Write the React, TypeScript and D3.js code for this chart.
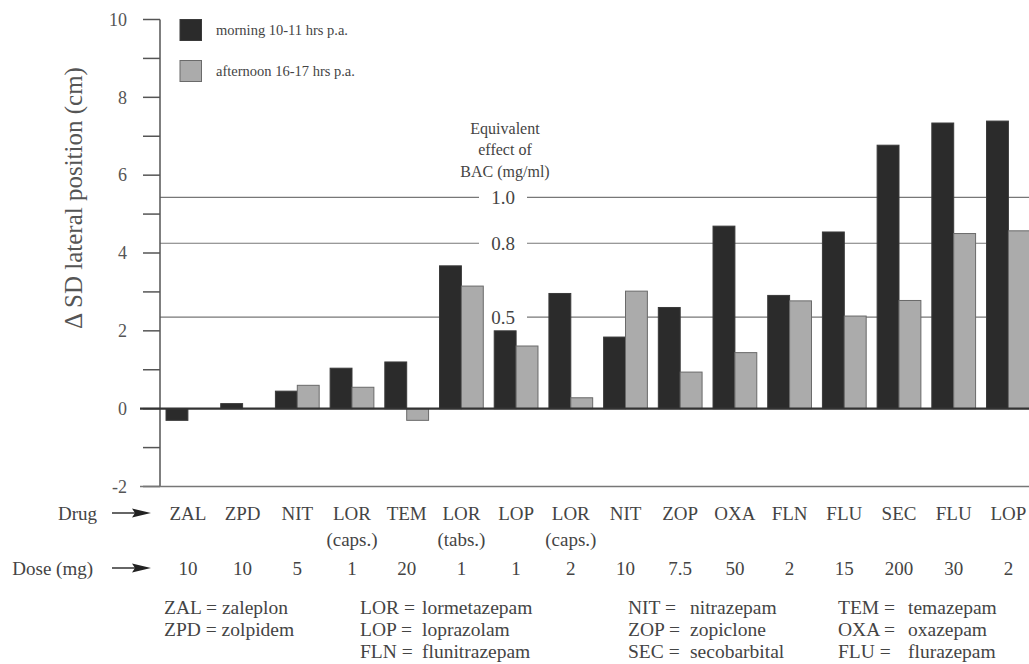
import React from "react";
import * as d3 from "d3";

const drugs = ["ZAL", "ZPD", "NIT", "LOR", "TEM", "LOR", "LOP", "LOR", "NIT", "ZOP", "OXA", "FLN", "FLU", "SEC", "FLU", "LOP"];
const forms = ["", "", "", "(caps.)", "", "(tabs.)", "", "(caps.)", "", "", "", "", "", "", "", ""];
const doses = ["10", "10", "5", "1", "20", "1", "1", "2", "10", "7.5", "50", "2", "15", "200", "30", "2"];
const morning = [-0.3, 0.13, 0.45, 1.04, 1.2, 3.67, 2.0, 2.96, 1.84, 2.6, 4.69, 2.91, 4.54, 6.77, 7.34, 7.39];
const afternoon = [0, 0, 0.6, 0.55, -0.3, 3.15, 1.61, 0.28, 3.02, 0.94, 1.44, 2.77, 2.38, 2.78, 4.5, 4.57];
const seriesNames = ["morning 10-11 hrs p.a.", "afternoon 16-17 hrs p.a."];
const bacLabels = ["1.0", "0.8", "0.5"];
const bacEquivalentCm = [5.43, 4.25, 2.35];
const yTicks = d3.range(-2, 11, 1);
const abbrevColumns = [
  [["ZAL", "zaleplon"], ["ZPD", "zolpidem"]],
  [["LOR", "lormetazepam"], ["LOP", "loprazolam"], ["FLN", "flunitrazepam"]],
  [["NIT", "nitrazepam"], ["ZOP", "zopiclone"], ["SEC", "secobarbital"]],
  [["TEM", "temazepam"], ["OXA", "oxazepam"], ["FLU", "flurazepam"]],
];

const W = 1029;
const H = 664;
const FONT = "Liberation Serif";
const TEXT = "#444";
const DARK = "#2b2b2b";
const GREY = "#ababab";

export default function App() {
  const ids = drugs.map((_, i) => String(i));
  const x = d3.scaleBand<string>().domain(ids).range([160, 1036.3]).paddingInner(0.2).paddingOuter(0.11);
  const inner = d3.scaleBand<string>().domain(["m", "a"]).range([0, x.bandwidth()]);
  const y = d3.scaleLinear().domain([-2, 10]).range([486.5, 19.5]);
  const axisX = 160;
  const bacX = 503;
  const gapHalf = 24;
  const ts = { fontFamily: FONT };

  const bar = (i: number, v: number, key: string) => {
    if (v === 0) return null;
    const x0 = (x(String(i)) as number) + (inner(key) as number);
    const y0 = y(Math.max(0, v));
    const h = Math.abs(y(v) - y(0));
    return (
      <rect
        key={key + i}
        x={x0}
        y={y0}
        width={inner.bandwidth()}
        height={h}
        fill={key === "m" ? DARK : GREY}
        stroke={key === "m" ? "#3a3a3a" : "#6a6a6a"}
        strokeWidth={1}
      />
    );
  };

  const arrow = (yy: number) => (
    <g>
      <line x1={112} x2={140} y1={yy} y2={yy} stroke="#333" strokeWidth={1.5} />
      <polygon points={`${132},${yy - 4.5} ${151},${yy} ${132},${yy + 4.5} ${135},${yy}`} fill="#222" />
    </g>
  );

  const colX = [[164, 0], [360, 422], [628, 690], [838, 908]];
  const rowY = [607, 629, 651];
  const legendSize = 19.5;

  return (
    <svg width={W} height={H} style={{ position: "absolute", left: 0, top: 0, background: "#fff", fontFamily: FONT }}>
      {/* BAC reference lines */}
      {bacEquivalentCm.map((v, i) => (
        <g key={"bac" + i}>
          <line x1={axisX} x2={bacX - gapHalf} y1={y(v)} y2={y(v)} stroke="#777" strokeWidth={1.2} />
          <line x1={bacX + gapHalf} x2={W} y1={y(v)} y2={y(v)} stroke="#777" strokeWidth={1.2} />
          <text style={ts} x={bacX} y={y(v)} dy="0.35em" textAnchor="middle" fontSize={19} fill={TEXT}>
            {bacLabels[i]}
          </text>
        </g>
      ))}
      <text style={ts} x={505} textAnchor="middle" fontSize={16} fill={TEXT}>
        <tspan x={505} y={134}>Equivalent</tspan>
        <tspan x={505} y={155}>effect of</tspan>
        <tspan x={505} y={177}>BAC (mg/ml)</tspan>
      </text>

      {/* bars */}
      {morning.map((v, i) => bar(i, v, "m"))}
      {afternoon.map((v, i) => bar(i, v, "a"))}

      {/* axes */}
      <line x1={axisX} x2={axisX} y1={y(10)} y2={y(-2)} stroke="#555" strokeWidth={1.5} />
      {yTicks.map((t) => (
        <g key={"t" + t}>
          <line x1={143} x2={axisX} y1={y(t)} y2={y(t)} stroke="#555" strokeWidth={1.5} />
          {t % 2 === 0 && (
            <text style={ts} x={127} y={y(t)} dy="0.35em" textAnchor="end" fontSize={18} fill="#555">
              {t}
            </text>
          )}
        </g>
      ))}
      <line x1={140} x2={W} y1={y(0)} y2={y(0)} stroke="#333" strokeWidth={2.2} />
      <line x1={140} x2={W} y1={y(-2)} y2={y(-2)} stroke="#777" strokeWidth={1.5} />

      <text
        style={ts}
        transform={`translate(73,${198}) rotate(-90)`}
        textAnchor="middle"
        dy="0.35em"
        fontSize={25}
        fill="#555"
      >
        Δ SD lateral position (cm)
      </text>

      {/* legend */}
      {seriesNames.map((s, i) => (
        <g key={"lg" + i}>
          <rect x={180} y={19.5 + i * 41} width={21.5} height={21} fill={i === 0 ? DARK : GREY} stroke={i === 0 ? "#3a3a3a" : "#6a6a6a"} />
          <text style={ts} x={216} y={30 + i * 41} dy="0.35em" fontSize={14.5} fill={TEXT}>
            {s}
          </text>
        </g>
      ))}

      {/* drug and dose rows */}
      <text style={ts} x={97} y={513} dy="0.35em" textAnchor="end" fontSize={19} fill={TEXT}>Drug</text>
      {arrow(513)}
      <text style={ts} x={93} y={568} dy="0.35em" textAnchor="end" fontSize={19} fill={TEXT}>Dose (mg)</text>
      {arrow(568)}
      {drugs.map((d, i) => {
        const cx = (x(String(i)) as number) + x.bandwidth() / 2;
        return (
          <g key={"d" + i}>
            <text style={ts} x={cx} y={513} dy="0.35em" textAnchor="middle" fontSize={19} fill={TEXT}>{d}</text>
            {forms[i] && (
              <text style={ts} x={cx} y={539} dy="0.35em" textAnchor="middle" fontSize={19} fill={TEXT}>{forms[i]}</text>
            )}
            <text style={ts} x={cx} y={568} dy="0.35em" textAnchor="middle" fontSize={19} fill={TEXT}>{doses[i]}</text>
          </g>
        );
      })}

      {/* abbreviations */}
      {abbrevColumns.map((col, c) =>
        col.map(([ab, name], r) => (
          <g key={"ab" + c + r}>
            {c === 0 ? (
              <text style={ts} x={colX[c][0]} y={rowY[r]} dy="0.35em" fontSize={legendSize} fill={TEXT}>
                {`${ab} = ${name}`}
              </text>
            ) : (
              <>
                <text style={ts} x={colX[c][0]} y={rowY[r]} dy="0.35em" fontSize={legendSize} fill={TEXT}>{`${ab} =`}</text>
                <text style={ts} x={colX[c][1]} y={rowY[r]} dy="0.35em" fontSize={legendSize} fill={TEXT}>{name}</text>
              </>
            )}
          </g>
        ))
      )}
    </svg>
  );
}
